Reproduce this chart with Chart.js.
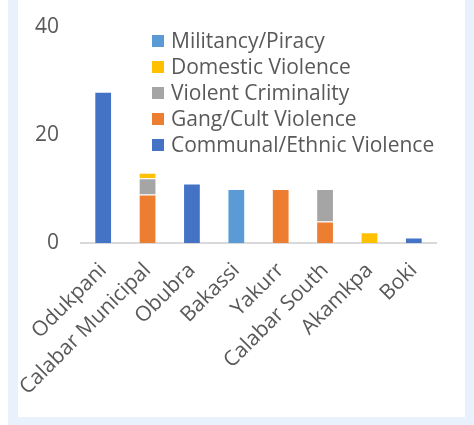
<!DOCTYPE html>
<html>
<head>
<meta charset="utf-8">
<script src="https://cdn.jsdelivr.net/npm/chart.js@4.4.0/dist/chart.umd.min.js"></script>
<style>
  html, body { margin: 0; padding: 0; background: #ffffff; width: 474px; height: 425px; overflow: hidden; }
  #frame { position: absolute; left: 8px; top: 0; width: 466px; height: 425px; background: #E8F1FC; }
  #panel { position: absolute; left: 18px; top: 0; width: 447px; height: 417px; background: #ffffff; }
  canvas { display: block; }
</style>
</head>
<body>
<div id="frame"></div>
<div id="panel"><canvas id="c" width="447" height="417"></canvas></div>
<script>
const categories = ['Odukpani', 'Calabar Municipal', 'Obubra', 'Bakassi', 'Yakurr', 'Calabar South', 'Akamkpa', 'Boki'];
const communalEthnic = [28, null, 11, null, null, null, null, 1];
const gangCult = [null, 9, null, null, 10, 4, null, null];
const violentCriminality = [null, 3, null, null, null, 6, null, null];
const domesticViolence = [null, 1, null, null, null, null, 2, null];
const militancyPiracy = [null, null, null, 10, null, null, null, null];
const yTicks = [0, 20, 40];

const FONT = "'Open Sans', sans-serif";
const TXT = '#595959';

function ds(label, data, color) {
  return { label, data, backgroundColor: color, borderColor: 'rgba(255,255,255,0.45)', borderWidth: 1,
           barPercentage: 0.4, categoryPercentage: 1.0, skipNull: true };
}

const legendPlugin = {
  id: 'insideLegend',
  afterDraw(chart) {
    const ctx = chart.ctx;
    const items = chart.data.datasets.slice().reverse();
    ctx.save();
    ctx.font = '21px ' + FONT;
    ctx.textBaseline = 'middle';
    ctx.textAlign = 'left';
    items.forEach((d, i) => {
      const cy = 41 + i * 26;
      ctx.fillStyle = d.backgroundColor;
      ctx.fillRect(134, cy - 6, 12, 12);
      ctx.fillStyle = TXT;
      ctx.fillText(d.label, 153, cy + 1);
    });
    ctx.restore();
  }
};

new Chart(document.getElementById('c'), {
  type: 'bar',
  data: {
    labels: categories,
    datasets: [
      ds('Communal/Ethnic Violence', communalEthnic, '#4472C4'),
      ds('Gang/Cult Violence', gangCult, '#ED7D31'),
      ds('Violent Criminality', violentCriminality, '#A5A5A5'),
      ds('Domestic Violence', domesticViolence, '#FFC000'),
      ds('Militancy/Piracy', militancyPiracy, '#5B9BD5')
    ]
  },
  options: {
    responsive: false,
    animation: false,
    layout: { padding: { top: 27, right: 29, left: 0, bottom: 0 } },
    plugins: { legend: { display: false }, tooltip: { enabled: false } },
    scales: {
      x: {
        stacked: true,
        grid: { display: false, drawTicks: false },
        border: { display: true, color: '#D9D9D9', width: 2 },
        ticks: { color: TXT, font: { family: FONT, size: 21 }, minRotation: 45, maxRotation: 45, padding: 15 },
        afterFit(s) { s.height = 174; s.paddingLeft = 0; s.paddingRight = 0; }
      },
      y: {
        stacked: true,
        min: 0, max: 40,
        afterBuildTicks(s) { s.ticks = yTicks.map(v => ({ value: v })); },
        grid: { display: false, drawTicks: false },
        border: { display: false },
        ticks: { color: TXT, font: { family: FONT, size: 21 }, padding: 22 },
        afterFit(s) { s.width = 63; s.paddingTop = 0; s.paddingBottom = 0; }
      }
    }
  },
  plugins: [legendPlugin]
});
</script>
</body>
</html>
